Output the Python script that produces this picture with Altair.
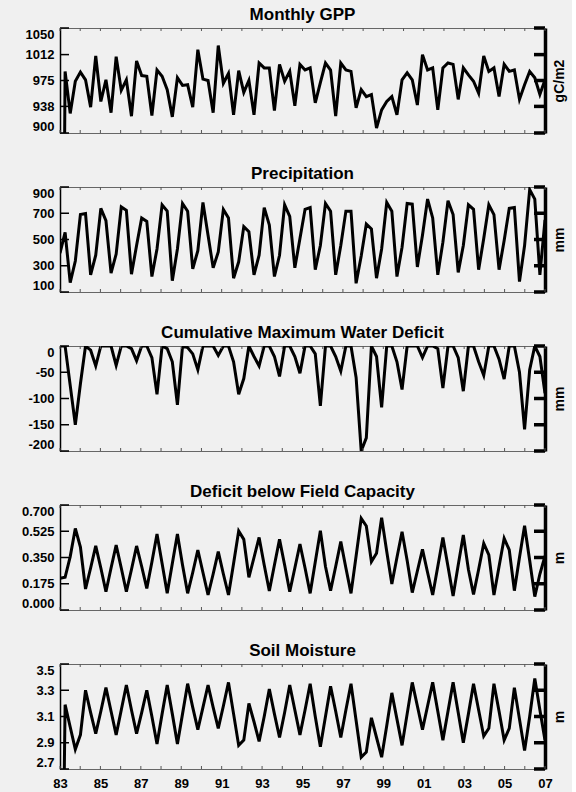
import altair as alt
import pandas as pd

# ---------------- data ----------------
year_start, year_end = 1983, 2007

gpp = [0, 988, 928, 974, 987, 976, 937, 1010, 945, 976, 929, 1009, 961, 976, 924, 1003,
       982, 981, 925, 990, 981, 962, 923, 979, 968, 969, 937, 1019, 977, 975, 929, 1025,
       971, 985, 926, 989, 958, 975, 926, 1000, 993, 993, 932, 998, 974, 988, 939, 998,
       990, 993, 943, 972, 1000, 990, 924, 1000, 990, 988, 936, 962, 952, 955, 907, 933,
       945, 952, 926, 976, 986, 976, 940, 1012, 990, 993, 933, 993, 1000, 998, 948, 993,
       983, 974, 957, 1010, 988, 993, 952, 998, 988, 990, 948, 969, 988, 979, 955, 976]

precip = [396, 554, 171, 336, 690, 698, 231, 381, 737, 643, 244, 389, 748, 722, 236, 454,
          664, 638, 218, 428, 764, 716, 186, 428, 774, 716, 276, 415, 782, 533, 284, 405,
          729, 664, 205, 330, 598, 559, 231, 380, 743, 611, 218, 380, 764, 677, 284, 507,
          730, 743, 270, 454, 774, 716, 231, 454, 716, 716, 166, 375, 617, 580, 205, 428,
          782, 716, 218, 441, 774, 769, 291, 533, 808, 664, 231, 480, 795, 690, 249, 454,
          764, 730, 270, 507, 764, 690, 270, 493, 737, 743, 179, 454, 880, 808, 231, 650]

cwd = [0, 0, -75, -150, -72, 0, -8, -38, 0, 0, 0, -37, 0, 0, -5, -28,
       0, 0, -22, -92, 0, -5, -30, -112, 0, -3, -15, -45, 0, 0, 0, -18,
       0, 0, -30, -92, -62, 0, -20, -38, 0, 0, -20, -58, 0, 0, -20, -52,
       0, 0, -15, -114, 0, 0, -20, -48, 0, 0, -60, -200, -175, 0, -20, -117,
       0, 0, -30, -83, 0, 0, 0, -22, 0, 0, -5, -80, 0, 0, -22, -86,
       0, 0, -30, -56, 0, 0, -25, -63, 0, 0, -50, -159, -45, 0, -20, -90]

deficit = [0.211, 0.218, 0.356, 0.544, 0.420, 0.140, 0.280, 0.427, 0.280, 0.122, 0.280, 0.433,
           0.280, 0.122, 0.270, 0.427, 0.290, 0.144, 0.320, 0.507, 0.310, 0.111, 0.310, 0.507,
           0.300, 0.111, 0.250, 0.400, 0.250, 0.100, 0.240, 0.389, 0.240, 0.100, 0.310, 0.527,
           0.471, 0.218, 0.350, 0.484, 0.300, 0.127, 0.300, 0.471, 0.300, 0.122, 0.280, 0.440,
           0.280, 0.111, 0.320, 0.529, 0.290, 0.129, 0.290, 0.456, 0.280, 0.111, 0.360, 0.611,
           0.560, 0.322, 0.378, 0.616, 0.390, 0.173, 0.350, 0.522, 0.330, 0.116, 0.260, 0.404,
           0.250, 0.100, 0.290, 0.484, 0.290, 0.093, 0.300, 0.500, 0.270, 0.104, 0.270, 0.444,
           0.367, 0.100, 0.290, 0.478, 0.400, 0.129, 0.350, 0.562, 0.330, 0.089, 0.240, 0.360]

soil = [0.0, 3.19, 3.02, 2.85, 2.96, 3.30, 3.13, 2.97, 3.14, 3.32, 3.14, 2.96,
        3.15, 3.34, 3.15, 2.97, 3.13, 3.30, 3.10, 2.89, 3.12, 3.34, 3.12, 2.89,
        3.12, 3.35, 3.17, 3.00, 3.17, 3.34, 3.17, 3.01, 3.18, 3.36, 3.12, 2.88,
        2.92, 3.20, 3.06, 2.91, 3.10, 3.31, 3.12, 2.94, 3.13, 3.34, 3.15, 2.96,
        3.15, 3.35, 3.10, 2.87, 3.10, 3.33, 3.14, 2.94, 3.15, 3.35, 3.07, 2.79,
        2.83, 3.09, 2.94, 2.79, 3.03, 3.28, 3.08, 2.88, 3.12, 3.36, 3.18, 3.00,
        3.18, 3.36, 3.14, 2.92, 3.14, 3.36, 3.13, 2.90, 3.12, 3.35, 3.15, 2.95,
        3.01, 3.35, 3.14, 2.92, 3.01, 3.32, 3.08, 2.84, 3.10, 3.39, 3.15, 2.92]

titles = ["Monthly GPP", "Precipitation", "Cumulative Maximum Water Deficit",
          "Deficit below Field Capacity", "Soil Moisture"]
units = ["gC/m2", "mm", "mm", "m", "m"]
ticks_gpp = [900, 938, 975, 1012, 1050]
ticks_precip = [100, 300, 500, 700, 900]
ticks_cwd = [-200, -150, -100, -50, 0]
ticks_deficit = [0.0, 0.175, 0.35, 0.525, 0.7]
ticks_soil = [2.7, 2.9, 3.1, 3.3, 3.5]
label_exprs = ["toString(datum.value)", "toString(datum.value)", "toString(datum.value)",
               "format(datum.value, '.3f')", "format(datum.value, '.1f')"]
year_labels = list(range(1983, 2008, 2))
year_minor = list(range(1983, 2008))

n = len(gpp)
t = [year_start + k * (year_end - year_start) / (n - 1) for k in range(n)]

W = 485
H = 105
FONT = "Liberation Sans"


def panel(values, title, unit, ticks, lexpr, bottom=False):
    df = pd.DataFrame({"t": t, "v": values})
    tick_df = pd.DataFrame({"v": ticks})
    yr_df = pd.DataFrame({"yr": year_minor})
    xscale = alt.Scale(domain=[year_start, year_end], nice=False, zero=False)
    yscale = alt.Scale(domain=[ticks[0], ticks[-1]], nice=False, zero=False)
    if bottom:
        xaxis = alt.Axis(values=year_labels, labelExpr="substring(toString(datum.value), 2, 4)",
                         title=None, ticks=False, domain=False, grid=False,
                         labelFontSize=13, labelFontWeight="bold", labelColor="black",
                         labelPadding=8, labelFlush=False, labelFont=FONT)
    else:
        xaxis = None
    line = alt.Chart(df).mark_line(color="black", strokeWidth=3, clip=True).encode(
        x=alt.X("t:Q", scale=xscale, axis=xaxis),
        y=alt.Y("v:Q", scale=yscale,
                axis=alt.Axis(values=ticks, labelExpr=lexpr, title=None, ticks=False,
                              domainColor="black", domainWidth=1.5, grid=False,
                              labelFontWeight="bold", labelFontSize=13, labelColor="black",
                              labelPadding=6, labelFlush=True, labelFont=FONT)),
    )
    left_ticks = alt.Chart(tick_df).mark_rule(color="black", strokeWidth=1.5).encode(
        x=alt.value(0), x2=alt.value(9), y=alt.Y("v:Q", scale=yscale, axis=None))
    right_ticks = alt.Chart(tick_df).mark_rule(color="black", strokeWidth=3.5).encode(
        x=alt.value(W - 11), x2=alt.value(W),
        y=alt.Y("v:Q", scale=yscale,
                axis=alt.Axis(orient="right", title=unit, labels=False, ticks=False,
                              domainColor="black", domainWidth=3.5, grid=False,
                              titleAngle=270, titleBaseline="top", titleFontSize=14,
                              titleFontWeight="bold", titleColor="black", titlePadding=7,
                              titleFont=FONT)))
    top_ticks = alt.Chart(yr_df).mark_rule(color="#555555", strokeWidth=1).encode(
        x=alt.X("yr:Q", scale=xscale, axis=xaxis), y=alt.value(0), y2=alt.value(3))
    bot_ticks = alt.Chart(yr_df).mark_rule(color="#555555", strokeWidth=1).encode(
        x=alt.X("yr:Q", scale=xscale, axis=xaxis), y=alt.value(H), y2=alt.value(H - 3))
    return alt.layer(line, left_ticks, right_ticks, top_ticks, bot_ticks).resolve_axis(
        y="independent").properties(
        width=W, height=H,
        title=alt.TitleParams(title, fontSize=17, fontWeight="bold", offset=2, font=FONT,
                              color="black", anchor="middle"))


series = [gpp, precip, cwd, deficit, soil]
tick_sets = [ticks_gpp, ticks_precip, ticks_cwd, ticks_deficit, ticks_soil]
panels = [panel(series[i], titles[i], units[i], tick_sets[i], label_exprs[i],
                bottom=(i == 4)) for i in range(5)]

chart = alt.vconcat(*panels, spacing=28).properties(
    padding={"left": 20, "top": 5, "right": 5, "bottom": 2},
    background="#f0f0f0",
).configure(font=FONT).configure_view(stroke="#666666", strokeWidth=1)

chart.save("out.html", embed_options={"renderer": "svg", "actions": False})
